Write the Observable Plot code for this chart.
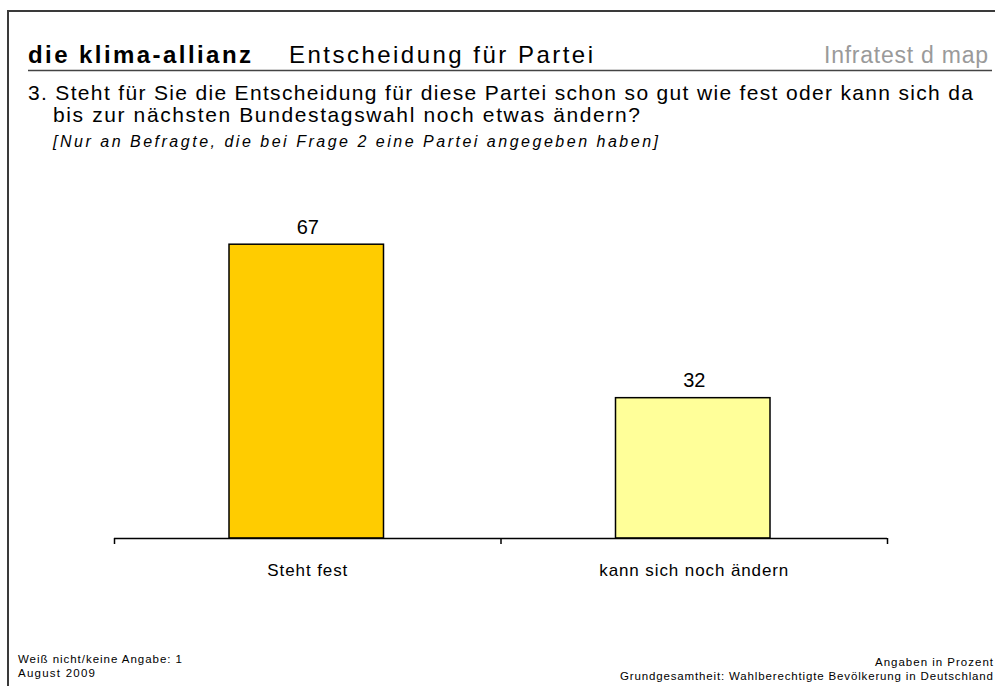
<!DOCTYPE html>
<html><head><meta charset="utf-8">
<script src="https://cdn.jsdelivr.net/npm/d3@7"></script>
<script src="https://cdn.jsdelivr.net/npm/@observablehq/plot@0.6"></script>
<style>
html,body{margin:0;padding:0;background:#fff;overflow:hidden;width:995px;height:686px}
#page{position:relative;width:995px;height:686px;overflow:hidden;font-family:"Liberation Sans",Arial,sans-serif}
#frame{position:absolute;left:7px;top:10px;width:1100px;height:800px;border:2px solid #3a3a3a}
#deco{position:absolute;left:0;top:0}
#chart{position:absolute;left:0;top:190px}
</style></head><body>
<div id="page"><div id="frame"></div><svg id="deco" width="995" height="686"></svg><div id="chart"></div></div>
<script>
// ---- data ----
const categories = ["Steht fest", "kann sich noch ändern"];
const values = [67, 32];
const barColors = ["#FFCC00", "#FFFF99"];
const brand = "die klima-allianz";
const title = "Entscheidung für Partei";
const source = "Infratest d map";
const question = ["3. Steht für Sie die Entscheidung für diese Partei schon so gut wie fest oder kann sich da",
                  "bis zur nächsten Bundestagswahl noch etwas ändern?"];
const note = "[Nur an Befragte, die bei Frage 2 eine Partei angegeben haben]";
const footLeft = ["Weiß nicht/keine Angabe: 1", "August 2009"];
const footRight = ["Angaben in Prozent", "Grundgesamtheit: Wahlberechtigte Bevölkerung in Deutschland"];

// ---- header / footer text ----
const deco = d3.select("#deco");
deco.append("line").attr("x1", 28).attr("x2", 992).attr("y1", 70.5).attr("y2", 70.5)
  .attr("stroke", "#444").attr("stroke-width", 1.6);
const texts = [
  {t: brand, x: 28, y: 63, fs: 24, fw: 700, w: 223},
  {t: title, x: 289, y: 63, fs: 24, w: 304},
  {t: source, x: 824, y: 63, fs: 23, w: 164, fill: "#9a9a9a", ff: "'Liberation Sans Narrow', 'Liberation Sans', sans-serif"},
  {t: question[0], x: 28, y: 100, fs: 21, w: 945},
  {t: question[1], x: 53, y: 122, fs: 21, w: 587},
  {t: note, x: 53, y: 147, fs: 16, w: 605, fst: "italic"},
  {t: footLeft[0], x: 18, y: 663, fs: 11.5, w: 164},
  {t: footLeft[1], x: 18, y: 677, fs: 11.5, w: 77},
  {t: footRight[0], x: 875, y: 666, fs: 11.5, w: 118},
  {t: footRight[1], x: 620, y: 680, fs: 11.5, w: 373}
];
for (const d of texts) {
  deco.append("text").text(d.t)
    .attr("x", d.x).attr("y", d.y)
    .attr("font-size", d.fs)
    .attr("font-weight", d.fw || 400)
    .attr("font-style", d.fst || "normal")
    .attr("font-family", d.ff || "'Liberation Sans', Arial, sans-serif")
    .attr("fill", d.fill || "#000")
    .attr("textLength", d.w).attr("lengthAdjust", "spacing");
}

// ---- chart ----
const data = categories.map((c, i) => ({category: c, index: i, value: values[i]}));
const chart = Plot.plot({
  width: 995, height: 410,
  marginTop: 20, marginBottom: 62, marginLeft: 114, marginRight: 108,
  x: {domain: [0, categories.length], axis: null},
  y: {domain: [0, 74.8], axis: null},
  color: {domain: categories, range: barColors},
  style: {fontFamily: "'Liberation Sans', Arial, sans-serif", background: "transparent", color: "#000"},
  marks: [
    Plot.rectY(data, {x1: "index", x2: d => d.index + 1, y1: 0, y2: "value", fill: "category",
      stroke: "#000", strokeWidth: 1.5, insetLeft: 115, insetRight: 117}),
    Plot.ruleY([0], {stroke: "#000", strokeWidth: 1.5}),
    Plot.axisX(d3.range(categories.length + 1), {tickSize: 6, tickFormat: () => "", stroke: "#000", strokeWidth: 1.5, label: null}),
    Plot.text(data, {x: d => d.index + 0.5, y: "value", text: d => String(d.value), lineAnchor: "bottom", dy: -11, fontSize: 20, fill: "#000"}),
    Plot.text(data, {x: d => d.index + 0.5, y: 0, text: "category", lineAnchor: "bottom", dy: 37, fontSize: 17, fill: "#000"})
  ]
});
document.getElementById("chart").appendChild(chart);
const textGroups = chart.querySelectorAll('g[aria-label="text"]');
if (textGroups.length) textGroups[textGroups.length - 1].setAttribute("letter-spacing", "0.9");
</script>
</body></html>
